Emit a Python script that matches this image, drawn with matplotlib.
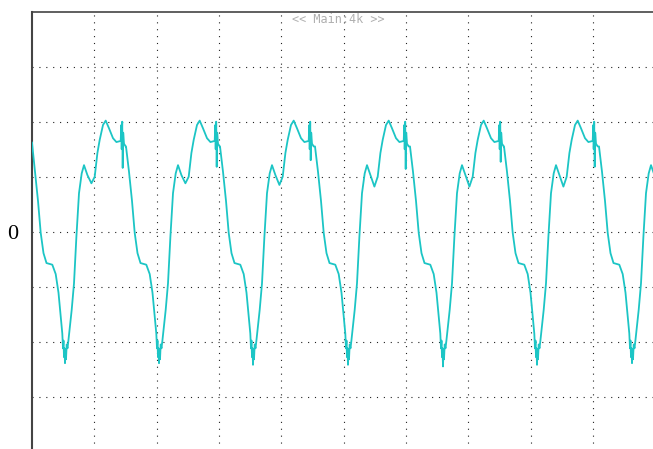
import numpy as np
import matplotlib
matplotlib.use("Agg")
import matplotlib.pyplot as plt

# screen: 10 x 8 divisions, time in samples (62.33 per div), amplitude in divisions
samples_per_div = 62.33
x_grid = [samples_per_div * k for k in range(1, 10)]
y_grid = [-3, -2, -1, 0, 1, 2, 3]
y_labels = ['', '', '', '0', '', '', '']
header = "<< Main:4k >>"

# trace, one line per cycle
t = [
    0, 3, 6, 8.7, 11.5, 14.5, 20.3, 23.7, 26.5, 28.7, 30.3, 31, 31.5, 32, 32.5, 33, 33.5, 34, 34.7, 35.5, 36.4, 39.7, 42, 44.4, 47, 49.7, 52, 55.4, 59.4, 62.7, 65.4, 67.7, 71, 73.7, 77, 81, 84.4, 88.7, 89.3, 89.7, 90.2, 90.7, 91.2, 92, 93.7,
    94, 97, 100, 102.7, 105.5, 108.5, 114.3, 117.7, 120.5, 122.7, 124.3, 125, 125.5, 126, 126.5, 127, 127.5, 128, 128.7, 129.5, 130.4, 133.7, 136, 138.4, 141, 143.7, 146, 149.4, 153.4, 156.7, 159.4, 161.7, 165, 167.7, 171, 175, 178.4, 182.7, 183.3, 183.7, 184.2, 184.7, 185.2, 186, 187.7,
    188, 191, 194, 196.7, 199.5, 202.5, 208.3, 211.7, 214.5, 216.7, 218.3, 219, 219.5, 220, 220.5, 221, 221.5, 222, 222.7, 223.5, 224.4, 227.7, 230, 232.4, 235, 237.7, 240, 243.4, 247.4, 250.7, 253.4, 255.7, 259, 261.7, 265, 269, 272.4, 276.7, 277.3, 277.7, 278.2, 278.7, 279.2, 280, 281.7,
    283, 286, 289, 291.7, 294.5, 297.5, 303.3, 306.7, 309.5, 311.7, 313.3, 314, 314.5, 315, 315.5, 316, 316.5, 317, 317.7, 318.5, 319.4, 322.7, 325, 327.4, 330, 332.7, 335, 338.4, 342.4, 345.7, 348.4, 350.7, 354, 356.7, 360, 364, 367.4, 371.7, 372.3, 372.7, 373.2, 373.7, 374.2, 375, 376.7,
    378, 381, 384, 386.7, 389.5, 392.5, 398.3, 401.7, 404.5, 406.7, 408.3, 409, 409.5, 410, 410.5, 411, 411.5, 412, 412.7, 413.5, 414.4, 417.7, 420, 422.4, 425, 427.7, 430, 433.4, 437.4, 440.7, 443.4, 445.7, 449, 451.7, 455, 459, 462.4, 466.7, 467.3, 467.7, 468.2, 468.7, 469.2, 470, 471.7,
    472, 475, 478, 480.7, 483.5, 486.5, 492.3, 495.7, 498.5, 500.7, 502.3, 503, 503.5, 504, 504.5, 505, 505.5, 506, 506.7, 507.5, 508.4, 511.7, 514, 516.4, 519, 521.7, 524, 527.4, 531.4, 534.7, 537.4, 539.7, 543, 545.7, 549, 553, 556.4, 560.7, 561.3, 561.7, 562.2, 562.7, 563.2, 564, 565.7,
    567, 570, 573, 575.7, 578.5, 581.5, 587.3, 590.7, 593.5, 595.7, 597.3, 598, 598.5, 599, 599.5, 600, 600.5, 601, 601.7, 602.5, 603.4, 606.7, 609, 611.4, 614, 616.7, 619, 622.4, 623.3,
]
v = [
    1.62, 1.09, 0.56, -0.02, -0.39, -0.57, -0.60, -0.77, -1.11, -1.55, -1.85, -2.12, -1.98, -2.28, -2.12, -2.39, -2.15, -2.32, -2.05, -2.12, -1.98, -1.42, -0.94, -0.09, 0.70, 1.06, 1.21, 1.03, 0.88, 1.00, 1.43, 1.67, 1.94, 2.02, 1.88, 1.70, 1.63, 1.65, 1.94, 1.50, 2.00, 1.16, 1.80, 1.60, 1.55,
    1.55, 1.09, 0.56, -0.02, -0.39, -0.57, -0.60, -0.77, -1.11, -1.55, -1.85, -2.12, -1.98, -2.28, -2.12, -2.39, -2.15, -2.32, -2.05, -2.12, -1.98, -1.42, -0.94, -0.09, 0.70, 1.06, 1.21, 1.03, 0.88, 1.00, 1.43, 1.67, 1.94, 2.02, 1.88, 1.70, 1.63, 1.65, 1.94, 1.50, 2.00, 1.18, 1.80, 1.60, 1.55,
    1.55, 1.09, 0.56, -0.02, -0.39, -0.57, -0.60, -0.77, -1.11, -1.55, -1.85, -2.12, -1.98, -2.28, -2.12, -2.42, -2.15, -2.32, -2.05, -2.12, -1.98, -1.42, -0.94, -0.09, 0.70, 1.06, 1.21, 1.03, 0.85, 1.00, 1.43, 1.67, 1.94, 2.02, 1.88, 1.70, 1.63, 1.65, 1.94, 1.50, 2.00, 1.30, 1.80, 1.60, 1.55,
    1.55, 1.09, 0.56, -0.02, -0.39, -0.57, -0.60, -0.77, -1.11, -1.55, -1.85, -2.12, -1.98, -2.28, -2.12, -2.42, -2.15, -2.32, -2.05, -2.12, -1.98, -1.42, -0.94, -0.09, 0.70, 1.06, 1.21, 1.03, 0.82, 1.00, 1.43, 1.67, 1.94, 2.02, 1.88, 1.70, 1.63, 1.65, 1.94, 1.50, 2.00, 1.14, 1.80, 1.60, 1.55,
    1.55, 1.09, 0.56, -0.02, -0.39, -0.57, -0.60, -0.77, -1.11, -1.55, -1.85, -2.12, -1.98, -2.28, -2.12, -2.45, -2.15, -2.32, -2.05, -2.12, -1.98, -1.42, -0.94, -0.09, 0.70, 1.06, 1.21, 1.03, 0.82, 1.00, 1.43, 1.67, 1.94, 2.02, 1.88, 1.70, 1.63, 1.65, 1.94, 1.50, 2.00, 1.27, 1.80, 1.60, 1.55,
    1.55, 1.09, 0.56, -0.02, -0.39, -0.57, -0.60, -0.77, -1.11, -1.55, -1.85, -2.12, -1.98, -2.28, -2.12, -2.42, -2.15, -2.32, -2.05, -2.12, -1.98, -1.42, -0.94, -0.09, 0.70, 1.06, 1.21, 1.03, 0.82, 1.00, 1.43, 1.67, 1.94, 2.02, 1.88, 1.70, 1.63, 1.65, 1.94, 1.50, 2.00, 1.18, 1.80, 1.60, 1.55,
    1.55, 1.09, 0.56, -0.02, -0.39, -0.57, -0.60, -0.77, -1.11, -1.55, -1.85, -2.12, -1.98, -2.28, -2.12, -2.39, -2.15, -2.32, -2.05, -2.12, -1.98, -1.42, -0.94, -0.09, 0.70, 1.06, 1.21, 1.03, 0.95,
]

W, H = 653, 449
fig = plt.figure(figsize=(W / 100, H / 100), dpi=100)
# axes box runs a bit past the right and bottom edge, like the screenshot
ax = fig.add_axes([32 / W, 1 - 451.7 / H, 623.3 / W, 440 / H])

ax.plot(np.array(t), np.array(v), color='#1cc5c5', linewidth=1.3, zorder=3)

ax.set_xlim(0, 10 * samples_per_div)
ax.set_ylim(-4, 4)
ax.set_xticks(x_grid)
ax.set_xticklabels([])
ax.set_yticks(y_grid)
ax.set_yticklabels(y_labels, family='Liberation Serif', fontsize=16)
ax.tick_params(length=0, pad=10)
ax.grid(True, color='#222222', linestyle=(0, (1, 5.2)), linewidth=0.8)

for side in ['right', 'bottom']:
    ax.spines[side].set_visible(False)
ax.spines['left'].set_color('#444444')
ax.spines['left'].set_linewidth(1.5)
ax.spines['top'].set_color('#444444')
ax.spines['top'].set_linewidth(1.2)

ax.text(0.491, 0.997, header, transform=ax.transAxes, ha='center', va='top',
        family='DejaVu Sans Mono', fontsize=8.5, color='#b0b0b0')

fig.savefig('out.png', dpi=100)
